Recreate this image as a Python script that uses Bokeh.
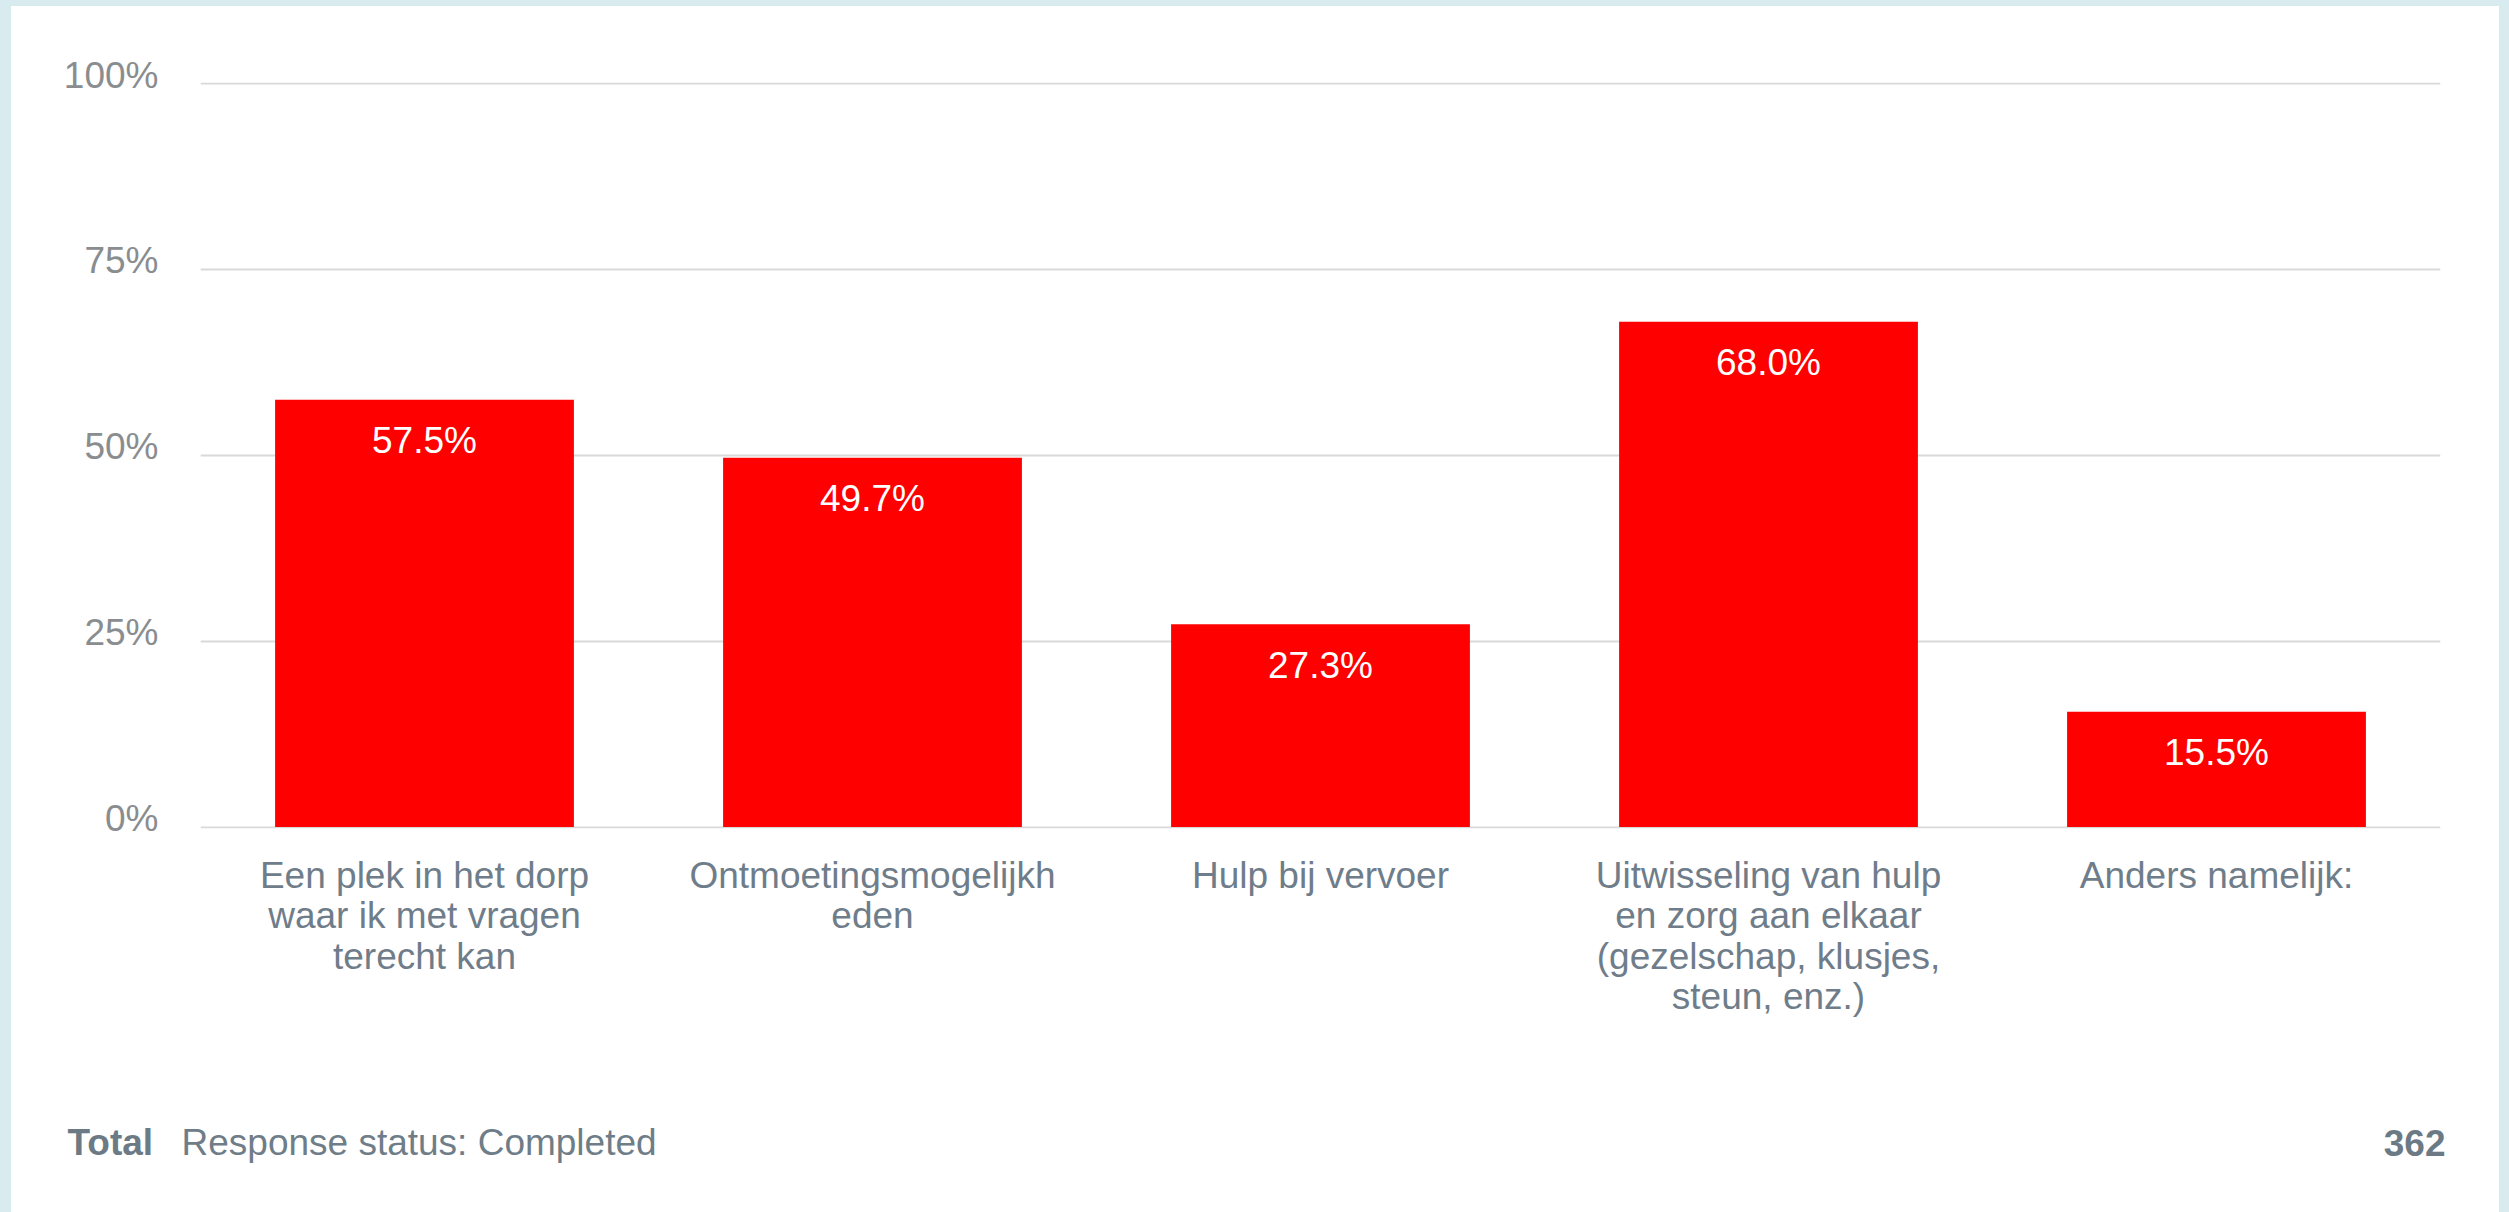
from bokeh.plotting import figure
from bokeh.models import ColumnDataSource, FixedTicker, PrintfTickFormatter, Label, Range1d
from bokeh.core.properties import value
from bokeh.embed import file_html
from bokeh.resources import INLINE

# ---- data ----
categories = [
    "Een plek in het dorp\nwaar ik met vragen\nterecht kan",
    "Ontmoetingsmogelijkh\neden",
    "Hulp bij vervoer",
    "Uitwisseling van hulp\nen zorg aan elkaar\n(gezelschap, klusjes,\nsteun, enz.)",
    "Anders namelijk:",
]
percentages = [57.5, 49.7, 27.3, 68.0, 15.5]
y_ticks = [0, 25, 50, 75, 100]
total_label = "Total"
status_label = "Response status: Completed"
total_count = "362"

FONT = "Liberation Sans"
FS = "37px"
W = 2488

source = ColumnDataSource(dict(
    cat=categories,
    pct=percentages,
    lbl=[f"{v:.1f}%" for v in percentages],
))

p = figure(
    x_range=categories,
    y_range=Range1d(-0.2, 100.2),
    width=W, height=1070,
    output_backend="svg", toolbar_location=None,
    min_border_left=189, min_border_right=59,
    min_border_top=76, min_border_bottom=248,
    background_fill_color=None, border_fill_color=None,
)
p.outline_line_color = None

p.vbar(x="cat", top="pct", width=0.667, source=source,
       fill_color="#ff0000", line_color=None)

p.text(x="cat", y="pct", text="lbl", source=source,
       text_align="center", text_baseline="middle", y_offset=41,
       text_color="white", text_font=value(FONT), text_font_size=value(FS))

# grid
p.xgrid.grid_line_color = None
p.ygrid.ticker = FixedTicker(ticks=y_ticks)
p.ygrid.grid_line_color = "#d9d9d9"
p.ygrid.grid_line_width = 2

# y axis
p.yaxis.ticker = FixedTicker(ticks=y_ticks)
p.yaxis.formatter = PrintfTickFormatter(format="%d%%\n")
p.yaxis.axis_line_color = None
p.yaxis.major_tick_line_color = None
p.yaxis.minor_tick_line_color = None
p.yaxis.major_tick_out = 0
p.yaxis.major_tick_in = 0
p.yaxis.major_label_standoff = 42
p.yaxis.major_label_text_font = FONT
p.yaxis.major_label_text_font_size = FS
p.yaxis.major_label_text_color = "#8a8d90"
p.yaxis.major_label_text_line_height = 0.43

# x axis
p.xaxis.axis_line_color = None
p.xaxis.major_tick_line_color = None
p.xaxis.minor_tick_line_color = None
p.xaxis.major_tick_out = 0
p.xaxis.major_tick_in = 0
p.xaxis.major_label_standoff = 26
p.xaxis.major_label_text_font = FONT
p.xaxis.major_label_text_font_size = FS
p.xaxis.major_label_text_color = "#6f7d8a"
p.xaxis.major_label_text_line_height = 0.99

# footer strip (separate root so its frame is not aligned with the chart's)
f = figure(
    width=W, height=136,
    x_range=Range1d(0, W), y_range=Range1d(0, 136),
    output_backend="svg", toolbar_location=None,
    min_border=0, min_border_left=0, min_border_right=0,
    min_border_top=0, min_border_bottom=0,
    background_fill_color=None, border_fill_color=None,
)
f.outline_line_color = None
f.axis.visible = False
f.grid.visible = False

f.add_layout(Label(x=56, y=70, text=total_label,
                   text_font=FONT, text_font_size=FS, text_font_style="bold",
                   text_color="#6b7a84", text_baseline="middle"))
f.add_layout(Label(x=170, y=70, text=status_label,
                   text_font=FONT, text_font_size=FS,
                   text_color="#6f7d88", text_baseline="middle"))
f.add_layout(Label(x=2434, y=70, text=total_count,
                   text_font=FONT, text_font_size=FS, text_font_style="bold",
                   text_color="#6b7a84", text_baseline="middle", text_align="right"))

html = file_html([p, f], INLINE)
css = ("<style>html { background-color: #d8ebef !important; }"
       " body { background-color: #ffffff !important; margin: 0 !important; padding: 0 !important;"
       " box-sizing: border-box !important; border-style: solid !important;"
       " border-color: #d8ebef !important; border-width: 6px 10px 0 11px !important; }</style>")
html = html.replace("</head>", css + "\n</head>", 1)
open("out.html", "w").write(html)
